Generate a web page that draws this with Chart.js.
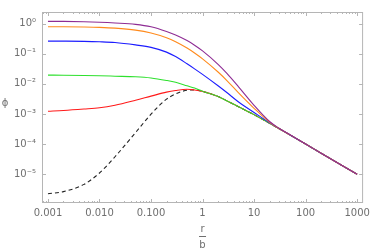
<!DOCTYPE html>
<html>
<head>
<meta charset="utf-8">
<script src="https://cdn.jsdelivr.net/npm/chart.js@4.4.1/dist/chart.umd.min.js"></script>
<style>
  html, body { margin: 0; padding: 0; background: #fff; }
</style>
</head>
<body>
<canvas id="chart" width="374" height="252"></canvas>
<script>
(function () {

    var radii = [0.001, 0.002, 0.005, 0.01, 0.02, 0.05, 0.1, 0.2, 0.3, 0.5, 0.7,
                 1, 2, 3, 5, 10, 20, 30, 50, 100, 200, 500, 1000];

    var phiPurple = [1.18, 1.175, 1.14, 1.10, 1.04, 0.936, 0.776, 0.541, 0.413, 0.271, 0.191,
                     0.1235, 0.0443, 0.0218, 7.96e-3, 1.94e-3, 5.6e-4, 3.4e-4, 2.03e-4, 1.0e-4, 5.0e-5, 2.0e-5, 1.0e-5];
    var phiOrange = [0.785, 0.783, 0.768, 0.746, 0.703, 0.603, 0.483, 0.336, 0.248, 0.153, 0.105,
                     0.0672, 0.0246, 0.0126, 5.0e-3, 1.54e-3, 5.3e-4, 3.37e-4, 2.02e-4, 1.0e-4, 5.0e-5, 2.0e-5, 1.0e-5];
    var phiBlue   = [0.261, 0.260, 0.256, 0.248, 0.234, 0.195, 0.162, 0.1125, 0.080, 0.046, 0.0313,
                     0.0205, 8.59e-3, 5.03e-3, 2.5e-3, 1.12e-3, 5.1e-4, 3.35e-4, 2.0e-4, 1.0e-4, 5.0e-5, 2.0e-5, 1.0e-5];
    var phiGreen  = [0.0194, 0.0193, 0.0189, 0.0185, 0.0179, 0.0171, 0.0156, 0.0129, 0.0112, 8.6e-3, 7.2e-3,
                     5.7e-3, 3.8e-3, 2.7e-3, 1.72e-3, 9.5e-4, 4.9e-4, 3.3e-4, 2.0e-4, 1.0e-4, 5.0e-5, 2.0e-5, 1.0e-5];
    var phiRed    = [1.23e-3, 1.3e-3, 1.45e-3, 1.6e-3, 1.95e-3, 2.85e-3, 3.9e-3, 5.3e-3, 6.0e-3, 6.6e-3, 6.25e-3,
                     5.6e-3, 3.8e-3, 2.7e-3, 1.72e-3, 9.5e-4, 4.9e-4, 3.3e-4, 2.0e-4, 1.0e-4, 5.0e-5, 2.0e-5, 1.0e-5];
    var phiDashed = [2.25e-6, 2.65e-6, 4.6e-6, 1.1e-5, 3.8e-5, 2.4e-4, 9.8e-4, 3.1e-3, 4.6e-3, 6.1e-3, 6.25e-3,
                     5.55e-3, 3.8e-3, 2.7e-3, 1.72e-3, 9.5e-4, 4.9e-4, 3.3e-4, 2.0e-4, 1.0e-4, 5.0e-5, 2.0e-5, 1.0e-5];

    var xTickValues = [0.001, 0.01, 0.1, 1, 10, 100, 1000];
    var xTickLabels = ['0.001', '0.010', '0.100', '1', '10', '100', '1000'];
    var yTickValues = [1e-5, 1e-4, 1e-3, 1e-2, 1e-1, 1];
    var yTickLabels = ['10\u207B\u2075', '10\u207B\u2074', '10\u207B\u00B3', '10\u207B\u00B2', '10\u207B\u00B9', '10\u2070'];

    var labelColor = '#6f6f6f';
    var frameColor = '#b5b5b5';
    var fontFamily = '"DejaVu Sans", sans-serif';

    function pts(ys) {
      return radii.map(function (r, i) { return { x: r, y: ys[i] }; });
    }

    function line(ys, color, dash) {
      return {
        data: pts(ys),
        borderColor: color,
        borderWidth: 1.1,
        borderDash: dash || [],
        pointRadius: 0,
        fill: false,
        cubicInterpolationMode: 'monotone'
      };
    }

    // frame with inward ticks on all four sides, like the original
    var frameTicks = {
      id: 'frameTicks',
      afterDraw: function (chart) {
        var ctx = chart.ctx, a = chart.chartArea;
        var sx = chart.scales.x, sy = chart.scales.y;
        ctx.save();
        ctx.strokeStyle = frameColor;
        ctx.lineWidth = 1;
        ctx.strokeRect(a.left + 0.5, a.top + 0.5, a.right - a.left - 1, a.bottom - a.top - 1);
        ctx.beginPath();
        for (var n = -4; n <= 3; n++) {
          for (var m = 1; m <= 9; m++) {
            var v = m * Math.pow(10, n);
            if (v < sx.min || v > sx.max) continue;
            var px = Math.round(sx.getPixelForValue(v)) + 0.5;
            var len = (m === 1) ? 4 : 2;
            ctx.moveTo(px, a.bottom); ctx.lineTo(px, a.bottom - len);
            ctx.moveTo(px, a.top); ctx.lineTo(px, a.top + len);
          }
        }
        yTickValues.forEach(function (v) {
          var py = Math.round(sy.getPixelForValue(v)) + 0.5;
          ctx.moveTo(a.left, py); ctx.lineTo(a.left + 4, py);
          ctx.moveTo(a.right, py); ctx.lineTo(a.right - 4, py);
        });
        ctx.stroke();

        // axis titles: phi on the left, r over b under the x axis
        ctx.fillStyle = labelColor;
        ctx.font = '10px ' + fontFamily;
        ctx.textAlign = 'center';
        ctx.textBaseline = 'middle';
        ctx.fillText('\u03D5', 5, 103);
        var cx = sx.getPixelForValue(1);
        ctx.fillText('r', cx, 229);
        ctx.fillText('b', cx, 245);
        ctx.beginPath();
        ctx.strokeStyle = labelColor;
        ctx.moveTo(cx - 3.5, 236.5); ctx.lineTo(cx + 3.5, 236.5);
        ctx.stroke();
        ctx.restore();
      }
    };

    var chart = new Chart('chart', {
      type: 'line',
      data: {
        datasets: [
          line(phiPurple, '#8e2c94'),
          line(phiOrange, '#ff8a1c'),
          line(phiBlue, '#1c1cff'),
          line(phiGreen, '#2ee02e'),
          line(phiRed, '#ff1a1a'),
          line(phiDashed, '#222222', [4, 3])
        ]
      },
      options: {
        responsive: false,
        animation: false,
        layout: { padding: { top: 4, right: 8, left: 0, bottom: 0 } },
        plugins: {
          legend: { display: false },
          tooltip: { enabled: false }
        },
        scales: {
          x: {
            type: 'logarithmic',
            min: 7.66e-4,
            max: 1305,
            grid: { display: false, drawTicks: false },
            border: { display: false },
            afterBuildTicks: function (s) {
              s.ticks = xTickValues.map(function (v) { return { value: v }; });
            },
            afterFit: function (s) { s.height = 49; },
            ticks: {
              autoSkip: false,
              maxRotation: 0,
              padding: 4,
              color: labelColor,
              font: { family: fontFamily, size: 10 },
              callback: function (v, i) { return xTickLabels[i]; }
            }
          },
          y: {
            type: 'logarithmic',
            min: 1.11e-6,
            max: 2.41,
            grid: { display: false, drawTicks: false },
            border: { display: false },
            afterBuildTicks: function (s) {
              s.ticks = yTickValues.map(function (v) { return { value: v }; });
            },
            afterFit: function (s) { s.width = 42; },
            ticks: {
              autoSkip: false,
              padding: 6,
              color: labelColor,
              font: { family: fontFamily, size: 10 },
              callback: function (v, i) { return yTickLabels[i]; }
            }
          }
        }
      },
      plugins: [frameTicks]
    });
})();
</script>
</body>
</html>
